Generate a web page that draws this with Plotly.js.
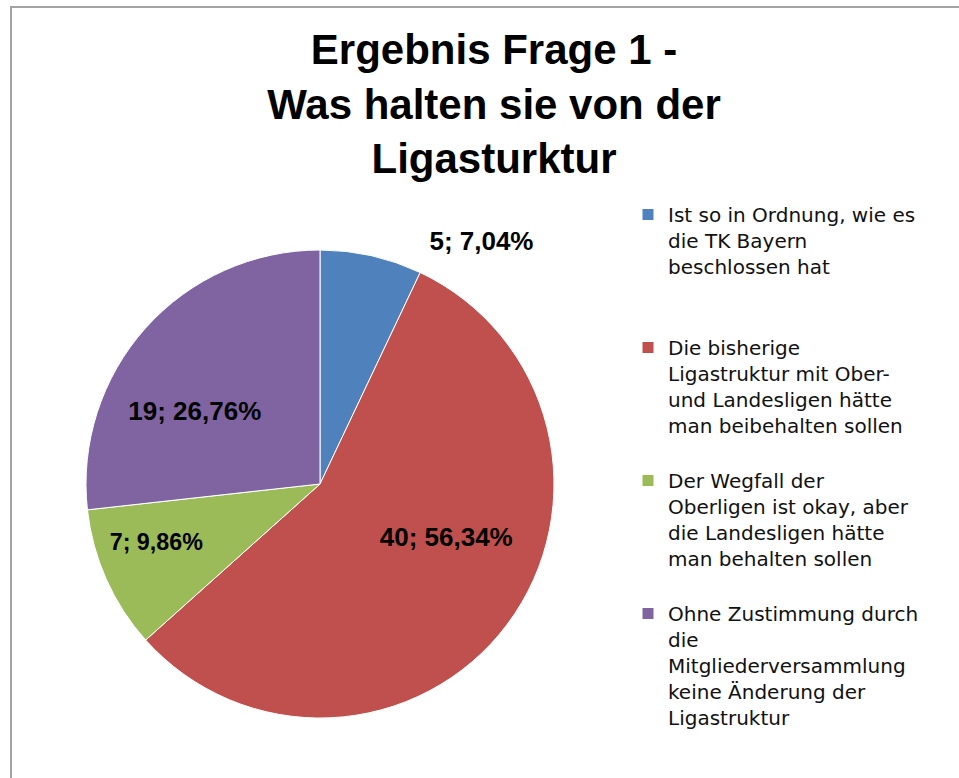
<!DOCTYPE html>
<html>
<head>
<meta charset="utf-8">
<script src="https://cdn.plot.ly/plotly-3.0.1.min.js"></script>
<style>
  html, body { margin: 0; padding: 0; background: #fff; }
  #wrap { position: relative; width: 959px; height: 778px; overflow: hidden; }
  #chart { position: absolute; left: 0; top: 0; width: 959px; height: 778px; }
  #frame { position: absolute; left: 10px; top: 6px; width: 1000px; height: 1000px;
           border-left: 2px solid #a3a3a3; border-top: 2px solid #a3a3a3; pointer-events: none; }
</style>
</head>
<body>
<div id="wrap">
  <div id="chart"></div>
  <div id="frame"></div>
</div>
<script>
// ---- data ----
const titleLines = ["Ergebnis Frage 1 -", "Was halten sie von der", "Ligasturktur"];
const categoryLines = [
  ["Ist so in Ordnung, wie es", "die TK Bayern", "beschlossen hat"],
  ["Die bisherige", "Ligastruktur mit Ober-", "und Landesligen hätte", "man beibehalten sollen"],
  ["Der Wegfall der", "Oberligen ist okay, aber", "die Landesligen hätte", "man behalten sollen"],
  ["Ohne Zustimmung durch", "die", "Mitgliederversammlung", "keine Änderung der", "Ligastruktur"]
];
const counts = [5, 40, 7, 19];
const sliceColors = ["#4F81BD", "#C0504D", "#9BBB59", "#8064A2"];

// ---- styling helpers (spacing only, not data) ----
const NB = "\u00a0";
const legendGapLines = [2, 1, 1, 0];           // empty lines after each legend entry
const labelLead = [7, 9, 0, 0];                 // leading spaces (shift right)
const labelTrail = [0, 0, 0, 7];                // trailing spaces (shift left)
const labelTopBlank = [0, 0, 0, 1];             // blank lines above (shift down)
const labelBottomBlank = [0, 1, 1, 0];          // blank lines below (shift up)

const labels = categoryLines.map((l, i) => l.concat(Array(legendGapLines[i]).fill(NB)).join("<br>"));
const templates = counts.map((_, i) =>
  Array(labelTopBlank[i]).fill(NB + "<br>").join("") +
  NB.repeat(labelLead[i]) + "%{value}; %{percent:.2%}" + NB.repeat(labelTrail[i]) +
  Array(labelBottomBlank[i]).fill("<br>" + NB).join("")
);

const labelFont = { family: "Liberation Sans, Arial, sans-serif", size: 26, color: "#000000", weight: "bold" };

const trace = {
  type: "pie",
  labels: labels,
  values: counts,
  sort: false,
  direction: "clockwise",
  rotation: 0,
  marker: { colors: sliceColors, line: { color: "#ffffff", width: 1 } },
  texttemplate: templates,
  textposition: ["outside", "inside", "inside", "inside"],
  insidetextorientation: "horizontal",
  textfont: labelFont,
  outsidetextfont: labelFont,
  insidetextfont: labelFont,
  domain: { x: [86 / 959, 554 / 959], y: [(778 - 718) / 778, (778 - 250) / 778] },
  hoverinfo: "value+percent",
  automargin: false
};

const layout = {
  width: 959,
  height: 778,
  margin: { l: 0, r: 0, t: 0, b: 0 },
  paper_bgcolor: "#ffffff",
  separators: ",.",
  title: {
    text: titleLines.join("<br>"),
    font: { family: "Liberation Sans, Arial, sans-serif", size: 42, color: "#000000", weight: "bold" },
    x: 494 / 959,
    xanchor: "center",
    xref: "container",
    yref: "container",
    y: 1 - 64 / 778,
    yanchor: "top"
  },
  showlegend: true,
  legend: {
    x: 628 / 959,
    xanchor: "left",
    y: 1 - 195 / 778,
    yanchor: "top",
    valign: "top",
    font: { family: "DejaVu Sans, sans-serif", size: 20, color: "#111111" },
    bgcolor: "rgba(0,0,0,0)"
  }
};

Plotly.newPlot("chart", [trace], layout, { staticPlot: true, displayModeBar: false });
</script>
</body>
</html>
